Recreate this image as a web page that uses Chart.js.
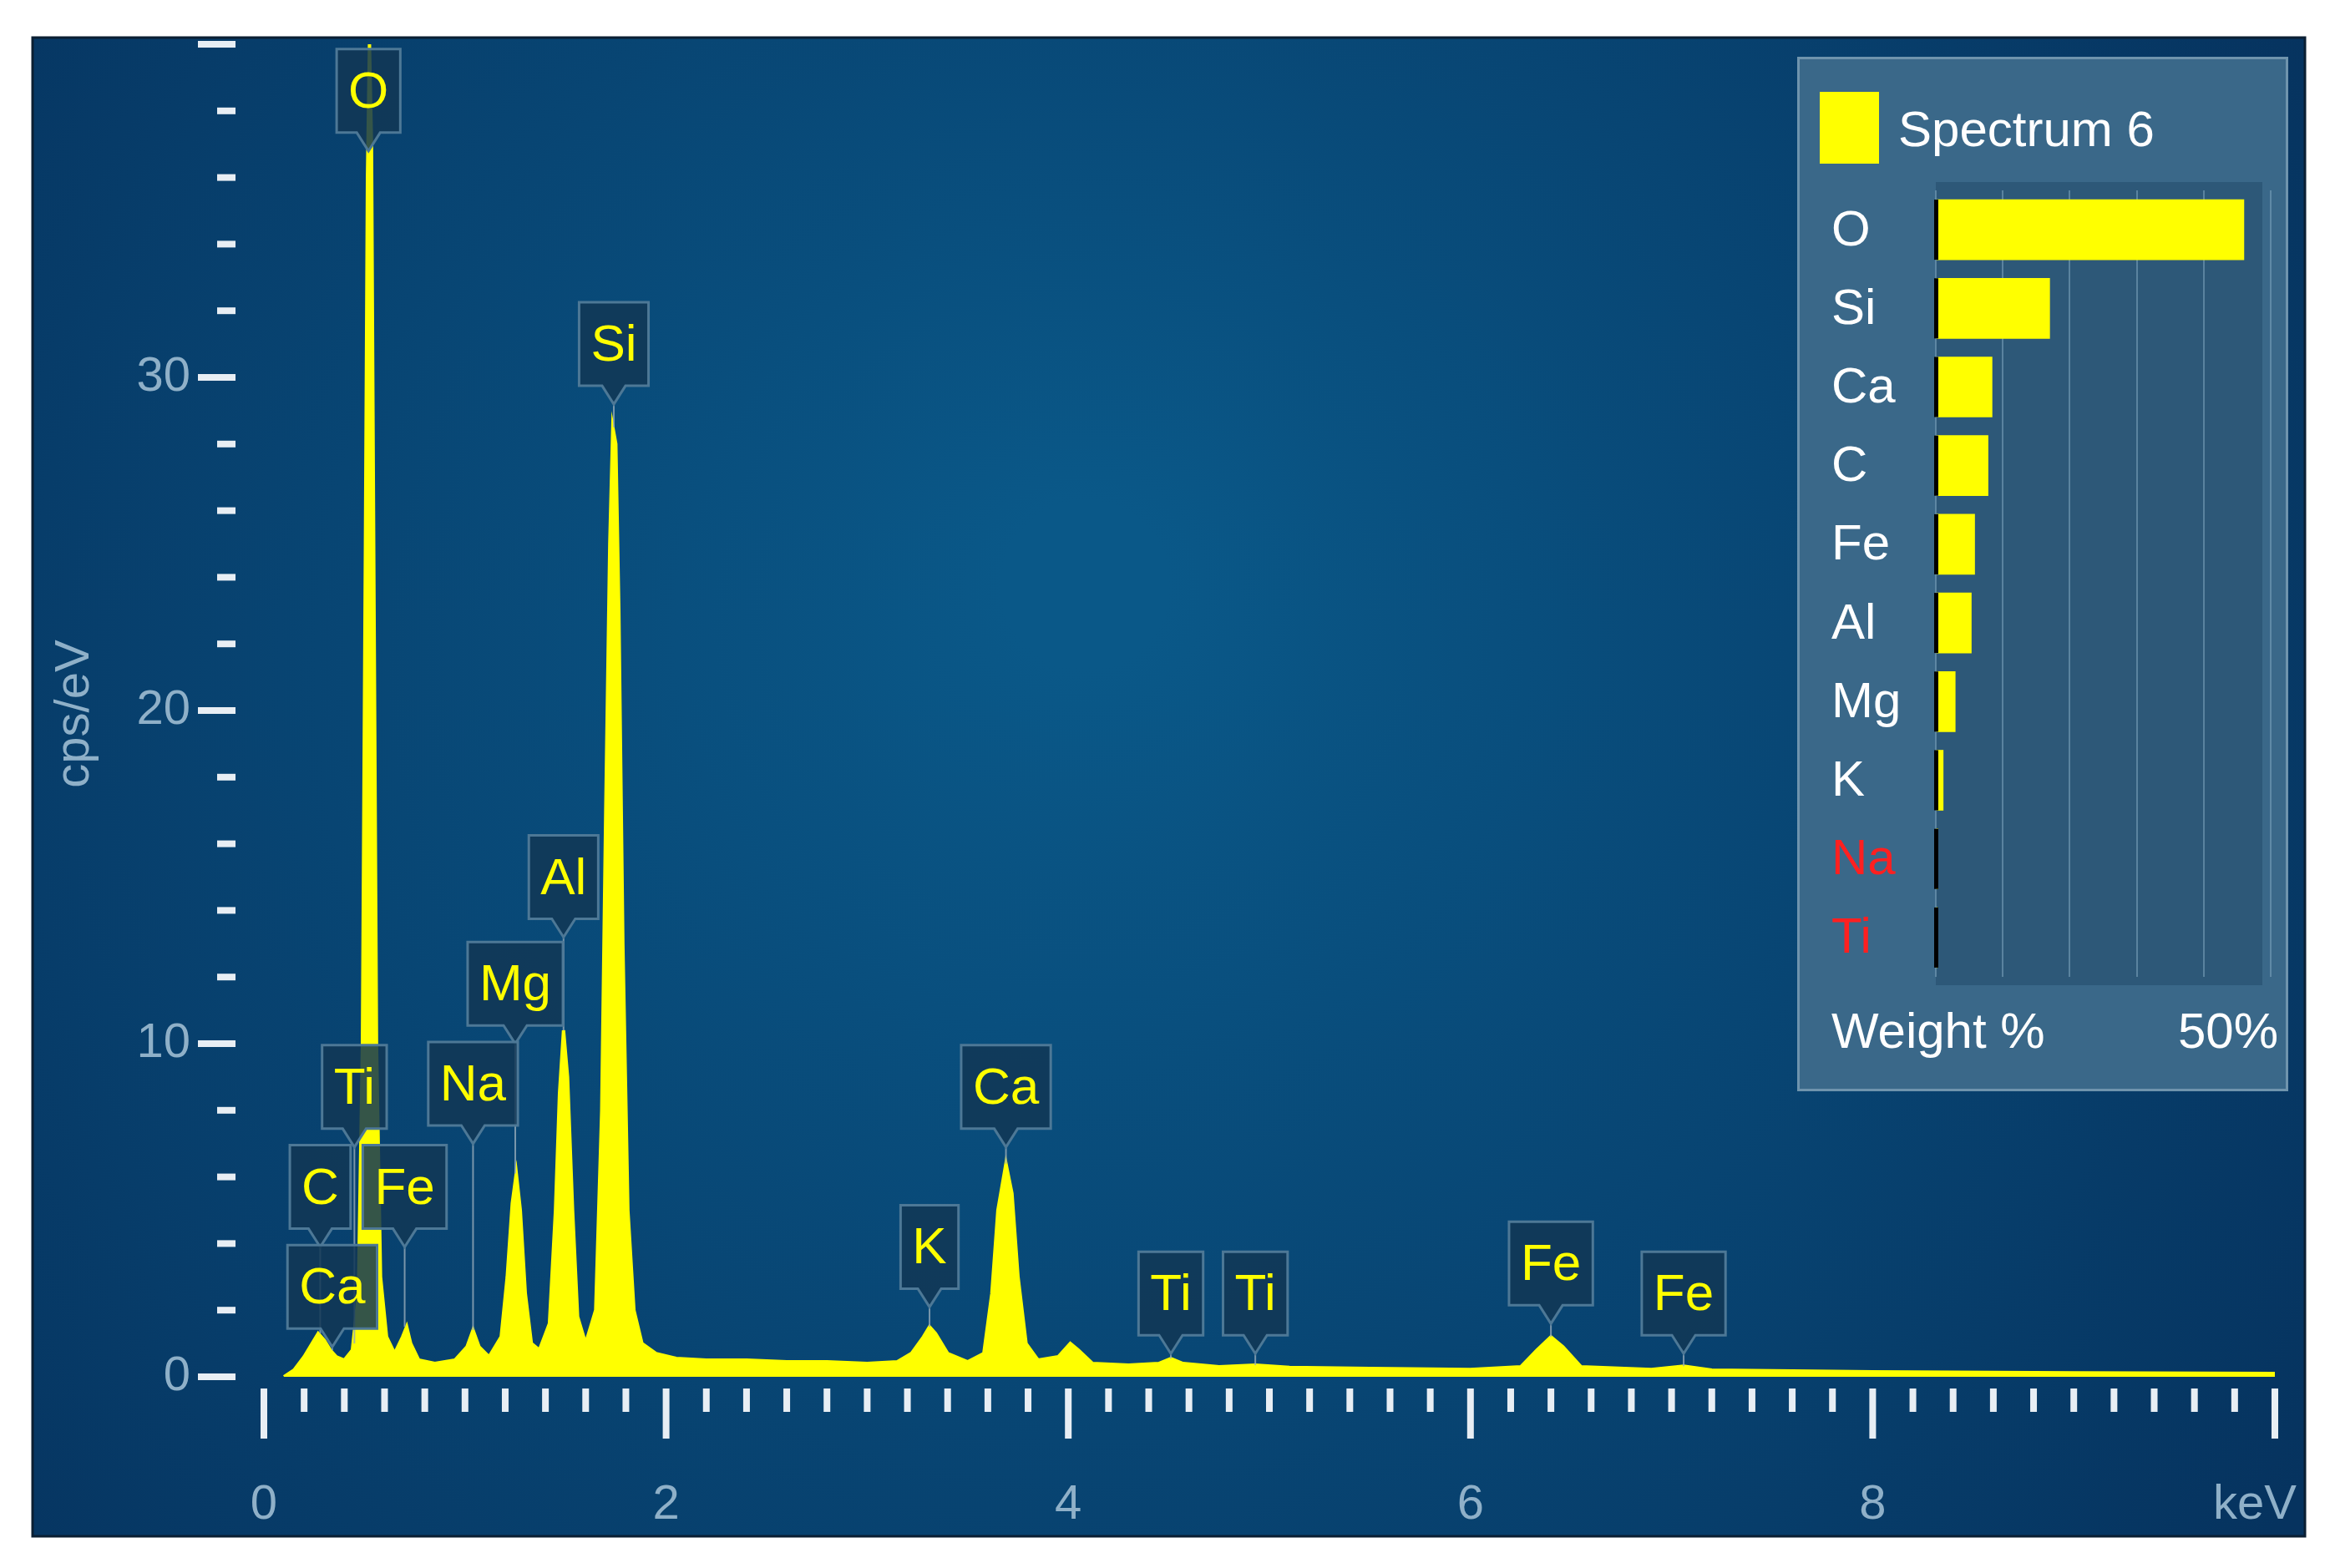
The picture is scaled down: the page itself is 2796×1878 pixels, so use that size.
<!DOCTYPE html>
<html><head><meta charset="utf-8">
<script src="https://cdn.jsdelivr.net/npm/chart.js@4"></script>
<style>
html,body{margin:0;padding:0;background:#fff;width:2796px;height:1878px;overflow:hidden}
#c1{position:absolute;left:0;top:0}
#c2{position:absolute;left:2152px;top:68px}
</style></head><body>
<canvas id="c1" width="2796" height="1878"></canvas>
<canvas id="c2" width="588" height="1239"></canvas>
<script>
const FONT = "'Liberation Sans Narrow','Liberation Sans','DejaVu Sans Condensed',sans-serif";
const energies = [0.10,0.15,0.20,0.24,0.27,0.30,0.33,0.36,0.40,0.44,0.47,0.49,0.505,0.515,0.525,0.535,0.545,0.56,0.58,0.61,0.65,0.69,0.71,0.73,0.77,0.85,0.95,1.01,1.04,1.07,1.12,1.18,1.21,1.235,1.255,1.275,1.30,1.33,1.37,1.42,1.45,1.47,1.49,1.51,1.535,1.56,1.60,1.65,1.68,1.70,1.72,1.735,1.75,1.765,1.785,1.81,1.84,1.88,1.95,2.05,2.2,2.4,2.6,2.8,3.0,3.15,3.22,3.28,3.31,3.34,3.40,3.50,3.58,3.62,3.65,3.69,3.72,3.75,3.79,3.85,3.95,4.01,4.05,4.12,4.3,4.45,4.51,4.57,4.75,4.93,5.1,5.5,6.0,6.25,6.33,6.40,6.46,6.55,6.9,7.06,7.2,8,9,10];
const counts = [0,0.2,0.6,1.0,1.3,1.1,0.8,0.6,0.5,0.8,2.5,10,25,36,40,37,26,10,3,1.2,0.7,1.2,1.5,1.0,0.5,0.4,0.5,0.9,1.4,0.9,0.6,1.2,3.0,5.2,6.1,5.0,2.5,1.0,0.8,1.6,5,8.5,10.4,9,5,1.8,1.0,2.0,8,17,25,28.5,28,23,13,5,2,1.0,0.7,0.55,0.5,0.5,0.45,0.45,0.4,0.45,0.7,1.2,1.5,1.3,0.7,0.45,0.7,2.5,5.0,6.4,5.5,3.0,1.0,0.5,0.6,1.0,0.8,0.4,0.35,0.4,0.55,0.4,0.3,0.35,0.28,0.25,0.22,0.3,0.8,1.2,0.9,0.3,0.22,0.32,0.2,0.15,0.12,0.1];
const peakNames = ["O","Si","Al","Mg","Na","Ti","C","Fe","Ca","K","Ca","Ti","Ti","Fe","Fe"];
const peakEnergy = [0.52,1.74,1.49,1.25,1.04,0.45,0.28,0.70,0.34,3.31,3.69,4.51,4.93,6.40,7.06];
const peakBoxY = [38.6,31,15,11.8,8.8,8.7,5.7,5.7,2.7,3.9,8.7,2.5,2.5,3.4,2.5];
const peakTopY = [38,28.5,10.4,6.1,1.4,1.0,1.3,1.5,0.8,1.5,6.4,0.55,0.35,1.2,0.32];
const yTicks = [0,10,20,30];
const xTicks = [0,2,4,6,8];
const elements = ["O","Si","Ca","C","Fe","Al","Mg","K","Na","Ti"];
const weights = [46,17,8.4,7.8,5.8,5.3,2.9,1.1,0.3,0.2];
const elemColors = ["#fff","#fff","#fff","#fff","#fff","#fff","#fff","#fff","#ff2020","#ff2020"];

const bgPlugin = {id:'bg', beforeDraw(ch){
  const c=ch.ctx; c.save();
  const g=c.createRadialGradient(1300,700,100,1300,900,1700);
  g.addColorStop(0,'#0a5888'); g.addColorStop(1,'#06335f');
  c.fillStyle=g; c.fillRect(39,45,2721,1795);
  c.strokeStyle='#0b1f33'; c.lineWidth=3; c.strokeRect(39,45,2721,1795);
  c.restore();
}};
const axesPlugin = {id:'axes', afterDatasetsDraw(ch){
  const c=ch.ctx, xs=ch.scales.x, ys=ch.scales.y; c.save();
  const y0=ys.getPixelForValue(0);
  c.fillStyle='#e8eef4';
  for(let v=0; v<=40; v+=2){
    const py=ys.getPixelForValue(v);
    const major = v%10===0;
    c.fillRect(major?237:260, py-4, major?45:22, 8);
  }
  for(let v=0; v<=10.001; v+=0.2){
    const px=xs.getPixelForValue(v);
    const major = Math.abs(v/2-Math.round(v/2))<0.01;
    c.fillRect(px-4, y0+14, 8, major?60:28);
  }
  c.fillStyle='#8fb0c8'; c.font='58px '+FONT;
  c.textAlign='right'; c.textBaseline='middle';
  yTicks.forEach(v=>c.fillText(String(v),228,ys.getPixelForValue(v)));
  c.textAlign='center'; c.textBaseline='top';
  xTicks.forEach(v=>c.fillText(String(v),xs.getPixelForValue(v),y0+125));
  c.textAlign='right'; c.fillText('keV',2750,y0+125);
  c.save(); c.translate(90,855); c.rotate(-Math.PI/2); c.textAlign='center'; c.textBaseline='middle';
  c.fillText('cps/eV',0,0); c.restore();
  c.font='62px '+FONT;
  peakNames.forEach((n,i)=>{
    const px=xs.getPixelForValue(peakEnergy[i]);
    const cy=ys.getPixelForValue(peakBoxY[i]);
    const w=c.measureText(n).width+28, h=100;
    const bx=px-w/2, by=cy-h/2;
    const tipY=by+h+22, topY=ys.getPixelForValue(peakTopY[i]);
    c.strokeStyle='rgba(150,170,185,0.8)'; c.lineWidth=2;
    if(topY>tipY){c.beginPath(); c.moveTo(px,tipY); c.lineTo(px,topY); c.stroke();}
    c.beginPath();
    c.moveTo(bx,by); c.lineTo(bx+w,by); c.lineTo(bx+w,by+h); c.lineTo(px+14,by+h);
    c.lineTo(px,tipY); c.lineTo(px-14,by+h); c.lineTo(bx,by+h); c.closePath();
    c.fillStyle='rgba(18,55,85,0.85)'; c.fill();
    c.strokeStyle='#4d7896'; c.lineWidth=3; c.stroke();
    c.fillStyle='#ffff00'; c.textAlign='center'; c.textBaseline='middle';
    c.fillText(n,px,cy+3);
  });
  c.restore();
}};

new Chart(document.getElementById('c1'),{
  type:'scatter',
  data:{datasets:[{data:energies.map((e,i)=>({x:e,y:counts[i]})),showLine:true,
    borderColor:'#ffff00',backgroundColor:'#ffff00',fill:'origin',borderWidth:4,pointRadius:0,tension:0}]},
  options:{responsive:false,devicePixelRatio:1,animation:false,
    layout:{padding:{left:316,right:72,top:53,bottom:229}},
    plugins:{legend:{display:false},tooltip:{enabled:false}},
    scales:{x:{type:'linear',min:0,max:10,display:false},y:{min:0,max:40,display:false}}},
  plugins:[bgPlugin,axesPlugin]
});

const legBg = {id:'legbg', beforeDraw(ch){
  const c=ch.ctx, a=ch.chartArea; c.save();
  c.fillStyle='#3a6889'; c.fillRect(0,0,588,1239);
  c.strokeStyle='#6f94ad'; c.lineWidth=3; c.strokeRect(1.5,1.5,585,1236);
  c.fillStyle='#2d5878'; c.fillRect(a.left,a.top-10,a.right-a.left-10,a.bottom-a.top+20);
  c.fillStyle='#ffff00'; c.fillRect(27,42,71,86);
  c.fillStyle='#fff'; c.font='60px '+FONT; c.textBaseline='middle'; c.textAlign='left';
  c.fillText('Spectrum 6',121,90);
  const ys=ch.scales.y;
  elements.forEach((e,i)=>{c.fillStyle=elemColors[i]; c.fillText(e,41,ys.getPixelForValue(i)+2);});
  c.fillStyle='#fff'; c.fillText('Weight %',41,1170);
  c.textAlign='right'; c.fillText('50%',576,1170);
  c.restore();
}, afterDatasetsDraw(ch){
  const c=ch.ctx, ys=ch.scales.y, xs=ch.scales.x; c.save();
  c.fillStyle='#000';
  elements.forEach((e,i)=>{const py=ys.getPixelForValue(i); c.fillRect(xs.getPixelForValue(0)-2,py-36,5,72);});
  c.restore();
}};
new Chart(document.getElementById('c2'),{
  type:'bar',
  data:{labels:elements,datasets:[{data:weights,backgroundColor:'#ffff00',barThickness:72}]},
  options:{indexAxis:'y',responsive:false,devicePixelRatio:1,animation:false,
    layout:{padding:{left:166,right:21,top:160,bottom:137}},
    plugins:{legend:{display:false},tooltip:{enabled:false}},
    scales:{x:{min:0,max:50,display:true,ticks:{display:false,stepSize:10},border:{display:false},
      grid:{color:'rgba(120,160,185,0.6)',lineWidth:2,drawTicks:false}},
      y:{display:false}}},
  plugins:[legBg]
});
</script></body></html>
